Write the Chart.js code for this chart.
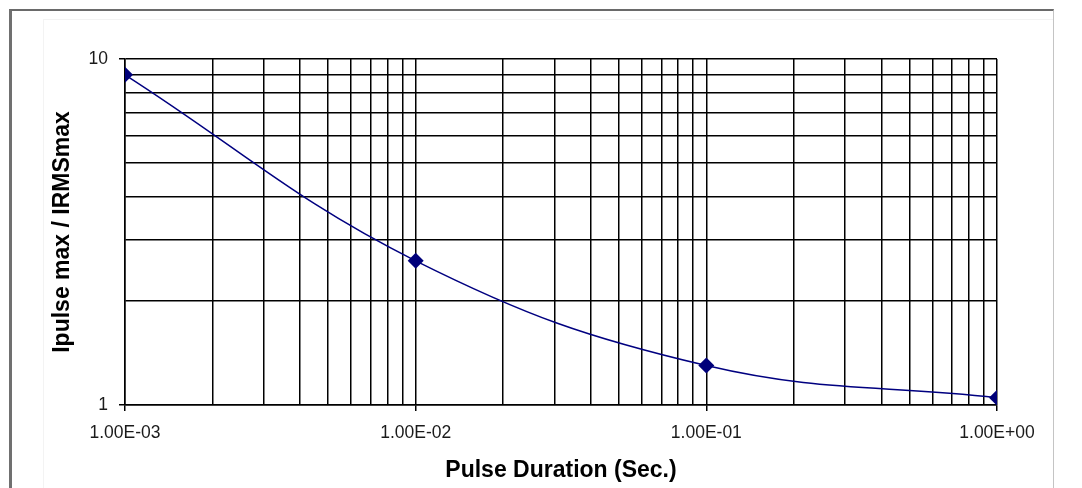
<!DOCTYPE html>
<html>
<head>
<meta charset="utf-8">
<script src="https://cdn.jsdelivr.net/npm/chart.js@4/dist/chart.umd.min.js"></script>
<style>
  html, body { margin: 0; padding: 0; background: #fff; }
  #wrap { position: relative; width: 1082px; height: 488px; overflow: hidden; }
  #c { position: absolute; left: 0; top: 0; }
  .frame { position: absolute; pointer-events: none; }
</style>
</head>
<body>
<div id="wrap">
  <canvas id="c" width="1082" height="488"></canvas>
  <div class="frame" style="left:43px; top:19px; width:1009px; height:520px; border-left:1px solid #f3f3f3; border-top:1px solid #f3f3f3;"></div>
  <div class="frame" style="left:9px; top:9px; width:1041px; height:520px; border-left:3px solid #707070; border-top:2px solid #6a6a6a; border-right:1px solid #c4c4c4;"></div>
</div>
<script>
// ---- Data ----
const durations = [0.001, 0.01, 0.1, 1];          // Pulse Duration (Sec.)
const ratios = [9.0, 2.61, 1.30, 1.05];           // Ipulse max / IRMSmax

const xTickValues = [0.001, 0.01, 0.1, 1];
const xTickLabels = ['1.00E-03', '1.00E-02', '1.00E-01', '1.00E+00'];
const yTickValues = [1, 10];
const yTickLabels = ['1', '10'];

const xTitle = 'Pulse Duration (Sec.)';
const yTitle = 'Ipulse max / IRMSmax';

// gridline positions: 1..9 within each decade
function decadeGrid(decades) {
  const out = [];
  for (let i = 0; i < decades.length - 1; i++) {
    for (let k = 1; k <= 9; k++) out.push(Number((k * decades[i]).toPrecision(6)));
  }
  out.push(decades[decades.length - 1]);
  return out;
}
const xGrid = decadeGrid(xTickValues);
const yGrid = decadeGrid(yTickValues);

function findIdx(list, v) {
  return list.findIndex(t => Math.abs(t - v) / t < 1e-6);
}

const points = durations.map((d, i) => ({ x: d, y: ratios[i] }));

const FONT = "'Liberation Sans', Arial, sans-serif";

new Chart(document.getElementById('c'), {
  type: 'scatter',
  data: {
    datasets: [{
      data: points,
      showLine: true,
      tension: 0.4,
      borderColor: '#000080',
      borderWidth: 1.5,
      backgroundColor: '#000080',
      pointStyle: 'rectRot',
      pointRadius: 8,
      pointBorderWidth: 0,
      pointBackgroundColor: '#00007a',
      pointBorderColor: '#00007a'
    }]
  },
  options: {
    responsive: false,
    devicePixelRatio: 1,
    animation: false,
    layout: { padding: { left: 0, top: 59, right: 85, bottom: 0 } },
    plugins: { legend: { display: false }, tooltip: { enabled: false }, title: { display: false } },
    scales: {
      x: {
        type: 'logarithmic',
        min: 0.001,
        max: 1,
        afterBuildTicks: s => { s.ticks = xGrid.map(v => ({ value: v, major: findIdx(xTickValues, v) >= 0 })); },
        afterFit: s => { s.height = 83; },
        ticks: {
          autoSkip: false,
          maxRotation: 0,
          minRotation: 0,
          padding: 12,
          color: '#1a1a1a',
          font: { family: FONT, size: 17.5 },
          callback: v => { const i = findIdx(xTickValues, v); return i >= 0 ? xTickLabels[i] : ''; }
        },
        grid: {
          color: '#000',
          lineWidth: 1.5,
          tickLength: 6,
          tickColor: ctx => (ctx.tick && findIdx(xTickValues, ctx.tick.value) >= 0) ? '#000' : 'rgba(0,0,0,0)'
        },
        border: { color: '#000', width: 1.5 },
        title: {
          display: true,
          text: xTitle,
          color: '#000',
          font: { family: FONT, size: 23, weight: 'bold' },
          padding: { top: 0, bottom: 4 }
        }
      },
      y: {
        type: 'logarithmic',
        min: 1,
        max: 10,
        afterBuildTicks: s => { s.ticks = yGrid.map(v => ({ value: v, major: findIdx(yTickValues, v) >= 0 })); },
        afterFit: s => { s.width = 125; },
        ticks: {
          autoSkip: false,
          padding: 11,
          color: '#1a1a1a',
          font: { family: FONT, size: 17.5 },
          callback: v => { const i = findIdx(yTickValues, v); return i >= 0 ? yTickLabels[i] : ''; }
        },
        grid: {
          color: '#000',
          lineWidth: 1.5,
          tickLength: 6,
          tickColor: ctx => (ctx.tick && findIdx(yTickValues, ctx.tick.value) >= 0) ? '#000' : 'rgba(0,0,0,0)'
        },
        border: { color: '#000', width: 1.5 },
        title: {
          display: true,
          text: yTitle,
          color: '#000',
          font: { family: FONT, size: 23, weight: 'bold' },
          padding: { top: 49, bottom: 0 }
        }
      }
    }
  }
});
</script>
</body>
</html>
